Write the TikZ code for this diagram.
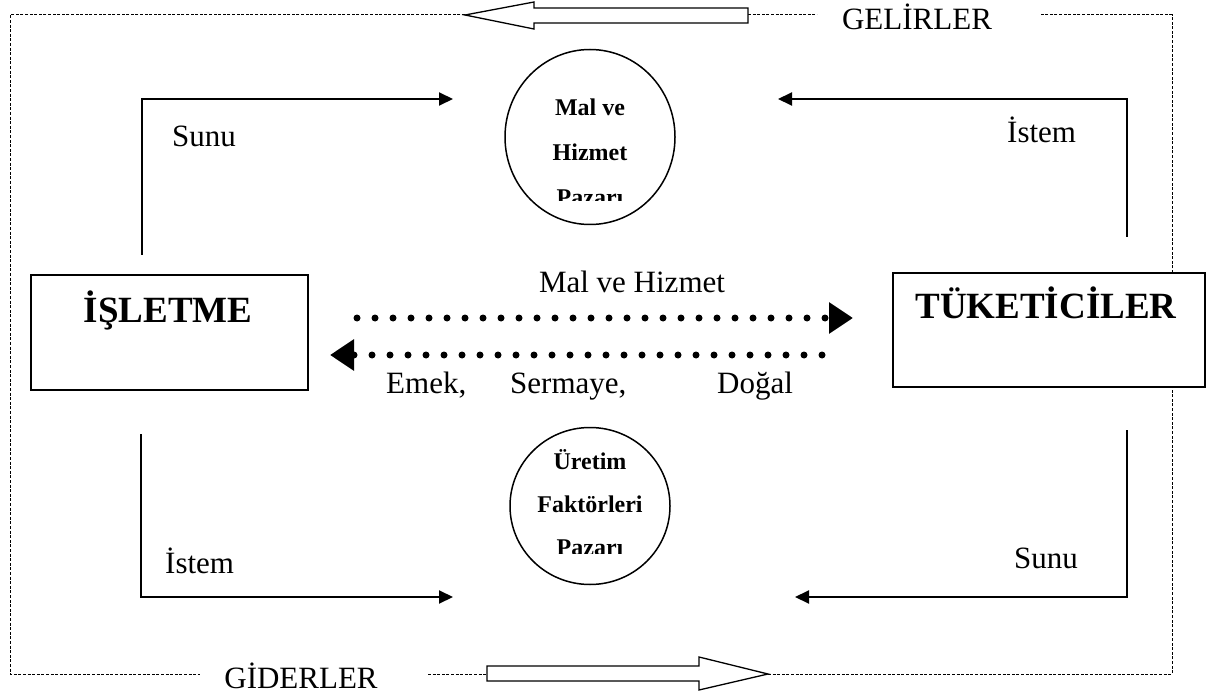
\documentclass[tikz,border=0pt]{standalone}
\usepackage{fontspec}
\setmainfont{Liberation Serif}
\usetikzlibrary{arrows.meta,shapes.geometric}

\tikzset{
  flow/.style={line width=2pt,-{Triangle[length=14pt,width=13pt]}},
  frame/.style={line width=1pt,dash pattern=on 3pt off 1.6pt},
  hollowarrow/.style={draw,line width=1.3pt,fill=white},
  unitbox/.style={draw,line width=2pt,fill=white,rectangle,inner sep=0pt},
  unittext/.style={font=\bfseries\fontsize{37}{40}\selectfont,inner sep=0pt},
  market/.style={draw,ellipse,line width=1.5pt,inner sep=0pt},
  markettext/.style={font=\bfseries\fontsize{24}{45}\selectfont,align=center,inner sep=0pt},
  lbl/.style={font=\fontsize{31}{36}\selectfont,inner sep=0pt},
  dotrow/.style={line width=7pt,line cap=round,dash pattern=on 0pt off 18pt,
                 -{Triangle[length=24pt,width=30pt]}},
}

\begin{document}
\begin{tikzpicture}[x=1pt,y=-1pt]
\useasboundingbox (0,0) rectangle (1208,695);

% ---- outer money circuit (dashed frame) ----
\coordinate (gtip) at (465,15);
\coordinate (gend) at (748,15);
\coordinate (dtail) at (487,674);
\coordinate (dtip) at (768,674);
\draw[frame] (gtip) -- (10,15) -- (10,674) -- (200,674);
\draw[frame] (428,674) -- (dtail);
\draw[frame] (dtip) -- (1172,674) -- (1172,15) -- (1041,15);
\draw[frame] (gend) -- (817,15);

% hollow arrows on the frame
\path[hollowarrow] (gtip) -- (534,2) -- (534,8) -- (748,8) -- (748,23) -- (534,23) -- (534,29) -- cycle;
\path[hollowarrow] (dtip) -- (699,657) -- (699,666) -- (dtail |- 0,666) -- (dtail |- 0,681) -- (699,681) -- (699,690) -- cycle;

\node[lbl] (gel) at (917,17) {GELİRLER};
\node[lbl] (gid) at (301,676) {GİDERLER};

% ---- units ----
\node[unitbox,minimum width=277pt,minimum height=115pt] (isl) at (169.5,332.5) {};
\node[unittext,anchor=base] (isltxt) at (168,322) {İŞLETME};
\node[unitbox,minimum width=312pt,minimum height=114pt] (tuk) at (1049,330) {};
\node[unittext,anchor=base] (tuktxt) at (1046,318) {TÜKETİCİLER};

% ---- markets ----
\node[market,minimum width=170pt,minimum height=175pt] (mhp) at (590,137) {};
\begin{scope}
  \clip (480,40) rectangle (700,201);
  \node[markettext] (mhptxt) at (590,152) {Mal ve\\Hizmet\\Pazarı};
\end{scope}
\node[market,minimum width=160pt,minimum height=157pt] (ufp) at (590,506) {};
\begin{scope}
  \clip (480,420) rectangle (700,553);
  \node[markettext,font=\bfseries\fontsize{24}{43}\selectfont] (ufptxt) at (590,503) {Üretim\\Faktörleri\\Pazarı};
\end{scope}

% ---- goods and factor flows ----
\coordinate (tlA) at (142,255);
\coordinate (tlB) at (453,99);
\draw[flow] (tlA) |- (tlB);
\coordinate (trA) at (1127,237);
\coordinate (trB) at (778,99);
\draw[flow] (trA) |- (trB);
\coordinate (blA) at (141,434);
\coordinate (blB) at (453,597);
\draw[flow] (blA) |- (blB);
\coordinate (brA) at (1127,430);
\coordinate (brB) at (795,597);
\draw[flow] (brA) |- (brB);

\node[lbl,anchor=base west] (s1) at (172,147) {Sunu};
\node[lbl,anchor=base west] (i1) at (1007,143) {İstem};
\node[lbl,anchor=base west] (i2) at (165,573) {İstem};
\node[lbl,anchor=base west] (s2) at (1014,568) {Sunu};

% ---- dotted exchange rows ----
\coordinate (upA) at (357,318);
\coordinate (upB) at (853,318);
\draw[dotrow] (upA) -- (upB);
\coordinate (loA) at (822,355);
\coordinate (loB) at (330,355);
\draw[dotrow] (loA) -- (loB);

\node[lbl,anchor=base] (mvh) at (632,293) {Mal ve Hizmet};
\node[lbl,anchor=base west] (emk) at (386,393) {Emek,};
\node[lbl,anchor=base west] (srm) at (510,393) {Sermaye,};
\node[lbl,anchor=base west] (dgl) at (717,393) {Doğal};
\end{tikzpicture}
\end{document}
